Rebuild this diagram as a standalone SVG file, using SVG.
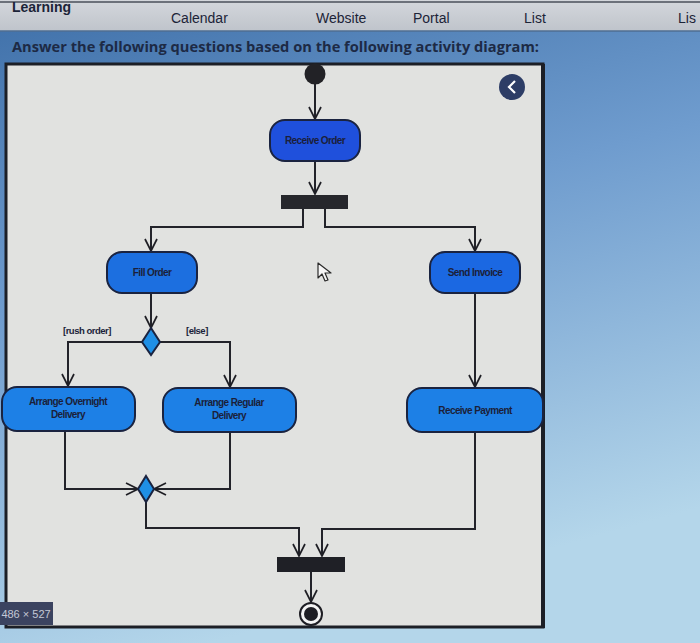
<svg xmlns="http://www.w3.org/2000/svg" width="700" height="643" viewBox="0 0 700 643">
<defs>
<linearGradient id="bg" x1="0" y1="0" x2="0.3" y2="1">
<stop offset="0" stop-color="#3e6fa8"/>
<stop offset="0.45" stop-color="#6f9cce"/>
<stop offset="1" stop-color="#b4d6ea"/>
</linearGradient>
<linearGradient id="bar" x1="0" y1="0" x2="0" y2="1">
<stop offset="0" stop-color="#d4d7dc"/>
<stop offset="1" stop-color="#bfc4cb"/>
</linearGradient>
<marker id="arr" viewBox="0 0 14 14" refX="13" refY="7" markerWidth="14" markerHeight="14" markerUnits="userSpaceOnUse" orient="auto">
<path d="M1,1 L13,7 L1,13" fill="none" stroke="#1e1e24" stroke-width="1.7"/>
</marker>
<style>
.act{stroke:#1a2340;stroke-width:2}
.lbl{font-family:"Liberation Sans",Arial,sans-serif;font-size:10px;font-weight:bold;fill:#1b1f3a;text-anchor:middle;letter-spacing:-0.6px}
.guard{font-family:"Liberation Sans",Arial,sans-serif;font-size:9.5px;font-weight:bold;fill:#1b1f3a;letter-spacing:-0.5px}
.flow{fill:none;stroke:#22232a;stroke-width:2}
.nav{font-family:"Liberation Sans",Arial,sans-serif;font-size:14px;fill:#1c2438}
</style>
</defs>
<rect x="0" y="0" width="700" height="643" fill="url(#bg)"/>
<!-- top nav bar -->
<rect x="0" y="0" width="700" height="31" fill="url(#bar)"/>
<line x1="0" y1="2" x2="700" y2="2" stroke="#6c717a" stroke-width="2"/>
<line x1="0" y1="31" x2="700" y2="31" stroke="#4f6e92" stroke-width="1.5"/>
<text x="12" y="12" class="nav" font-weight="bold" font-size="12">Learning</text>
<text x="171" y="23" class="nav">Calendar</text>
<text x="316" y="23" class="nav">Website</text>
<text x="413" y="23" class="nav">Portal</text>
<text x="524" y="23" class="nav">List</text>
<text x="678" y="23" class="nav">Lis</text>
<text x="12" y="52" font-family="'Open Sans','Liberation Sans',Arial,sans-serif" font-size="14" font-weight="bold" fill="#1d2a45" textLength="527" lengthAdjust="spacingAndGlyphs">Answer the following questions based on the following activity diagram:</text>
<!-- panel -->
<rect x="6" y="64" width="537" height="563" fill="#e1e2e0" stroke="#1c1f26" stroke-width="3"/>
<line x1="543" y1="64" x2="543" y2="628" stroke="#1c1f26" stroke-width="4"/>
<!-- back button -->
<g id="back-button">
<circle cx="512" cy="87" r="13" fill="#2d3d66"/>
<path d="M515,81 L509,87 L515,93" fill="none" stroke="#ffffff" stroke-width="2.2"/>
</g>
<!-- connectors -->
<g id="connectors">
<path class="flow" d="M315,84 V119" marker-end="url(#arr)"/>
<path class="flow" d="M315,161 V194" marker-end="url(#arr)"/>
<path class="flow" d="M303,209 V227 H151 V251" marker-end="url(#arr)"/>
<path class="flow" d="M325,209 V227 H475 V251" marker-end="url(#arr)"/>
<path class="flow" d="M151,293 V328" marker-end="url(#arr)"/>
<path class="flow" d="M142,342 H68 V386" marker-end="url(#arr)"/>
<path class="flow" d="M160,342 H230 V387" marker-end="url(#arr)"/>
<path class="flow" d="M475,293 V387" marker-end="url(#arr)"/>
<path class="flow" d="M65,431 V489 H138" marker-end="url(#arr)"/>
<path class="flow" d="M230,432 V489 H154" marker-end="url(#arr)"/>
<path class="flow" d="M146,502 V528 H299 V556" marker-end="url(#arr)"/>
<path class="flow" d="M475,432 V529 H322 V556" marker-end="url(#arr)"/>
<path class="flow" d="M311,572 V602" marker-end="url(#arr)"/>
</g>
<g id="start"><circle cx="315" cy="74" r="10.5" fill="#222226"/></g>
<g id="receive-order">
<rect class="act" x="270" y="120" width="90" height="41" rx="15" fill="#1f50dc"/>
<text class="lbl" x="315" y="144">Receive Order</text>
</g>
<g id="fork"><rect x="281" y="195" width="67" height="14" fill="#26272c"/></g>
<g id="fill-order">
<rect class="act" x="107" y="252" width="90" height="41" rx="15" fill="#1c6fe0"/>
<text class="lbl" x="152" y="276">Fill Order</text>
</g>
<g id="send-invoice">
<rect class="act" x="430" y="252" width="90" height="41" rx="15" fill="#1b68e2"/>
<text class="lbl" x="475" y="276">Send Invoice</text>
</g>
<g id="decision">
<path d="M151,328 L160,342 L151,355 L142,342 Z" fill="#1f8fe6" stroke="#1a2340" stroke-width="2"/>
<text class="guard" x="63" y="334">[rush order]</text>
<text class="guard" x="186" y="334">[else]</text>
</g>
<g id="arrange-overnight">
<rect class="act" x="2" y="387" width="133" height="44" rx="15" fill="#1d80e6"/>
<text class="lbl" x="68" y="405">Arrange Overnight</text>
<text class="lbl" x="68" y="418">Delivery</text>
</g>
<g id="arrange-regular">
<rect class="act" x="163" y="388" width="133" height="44" rx="15" fill="#1d80e6"/>
<text class="lbl" x="229" y="406">Arrange Regular</text>
<text class="lbl" x="229" y="419">Delivery</text>
</g>
<g id="receive-payment">
<rect class="act" x="407" y="388" width="136" height="44" rx="15" fill="#1d80e6"/>
<text class="lbl" x="475" y="414">Receive Payment</text>
</g>
<g id="merge">
<path d="M146,476 L154,489 L146,502 L138,489 Z" fill="#1f90e6" stroke="#1a2340" stroke-width="2"/>
</g>
<g id="join"><rect x="277" y="557" width="68" height="15" fill="#1f2026"/></g>
<g id="end">
<circle cx="311" cy="614" r="11" fill="#f4f4f4" stroke="#1e1e24" stroke-width="2"/>
<circle cx="311" cy="614" r="7" fill="#1e1e24"/>
</g>
<!-- cursor -->
<path d="M318,263 L318,278 L322,274 L325,281 L328,280 L325,273 L331,273 Z" fill="#f6f6f6" stroke="#2a2a2a" stroke-width="1.2" stroke-linejoin="round"/>
<!-- image size label -->
<rect x="0" y="602" width="53" height="23" fill="#3b4360"/>
<text x="26" y="618" font-family="'Liberation Sans',Arial,sans-serif" font-size="11" fill="#c4c8d6" text-anchor="middle">486 × 527</text>
</svg>
